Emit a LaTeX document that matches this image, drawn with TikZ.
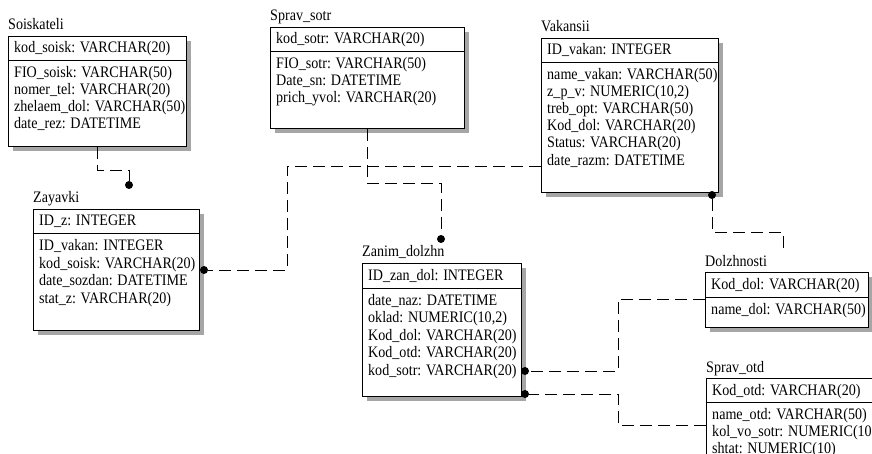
\documentclass[tikz,border=0pt]{standalone}
\usepackage{fontspec}
\setmainfont{Liberation Serif}[FakeStretch=0.88]
\usepackage{tikz}
\usetikzlibrary{
    shadows,
    calc,
    positioning
}

\tikzset{
    tbl/.style={draw, line width=1.1pt, fill=white, rectangle, anchor=north west,
        inner sep=0pt,
        drop shadow={shadow xshift=4pt, shadow yshift=-4pt, fill=gray!70, opacity=1}},
    ttl/.style={anchor=base west, inner sep=0pt, font=\fontsize{16}{17}\selectfont},
    fld/.style={anchor=base west, inner sep=0pt, font=\fontsize{16}{17}\selectfont},
    sep/.style={line width=0.8pt},
    rel/.style={line width=0.8pt, dash pattern=on 12pt off 6pt},
    dot/.style={circle, fill=black, inner sep=0pt, minimum size=8pt}
}

\begin{document}
\begin{tikzpicture}[x=1pt, y=-1pt]
    \clip (0,0) rectangle (872,454);
    \fill[white] (0,0) rectangle (872,454);

    % Soiskateli
    \node[tbl, minimum width=178, minimum height=110] (soisk) at (8,36) {};
    \node[ttl] at ([yshift=6pt]soisk.north west) {Soiskateli};
    \draw[sep] ([yshift=-24pt]soisk.north west) -- ([yshift=-24pt]soisk.north east);
    \node[fld] at ([shift={(6pt,-17pt)}]soisk.north west) {kod\_soisk: VARCHAR(20)};
    \foreach \f [count=\i] in {FIO\_soisk: VARCHAR(50), nomer\_tel: VARCHAR(20),
        zhelaem\_dol: VARCHAR(50), date\_rez: DATETIME}
        \node[fld] at ([shift={(6pt,{-24pt-17.2pt*\i})}]soisk.north west) {\f};

    % Sprav_sotr
    \node[tbl, minimum width=194, minimum height=101] (sotr) at (270,27) {};
    \node[ttl] at ([yshift=6pt]sotr.north west) {Sprav\_sotr};
    \draw[sep] ([yshift=-24pt]sotr.north west) -- ([yshift=-24pt]sotr.north east);
    \node[fld] at ([shift={(6pt,-17pt)}]sotr.north west) {kod\_sotr: VARCHAR(20)};
    \foreach \f [count=\i] in {FIO\_sotr: VARCHAR(50), Date\_sn: DATETIME,
        prich\_yvol: VARCHAR(20)}
        \node[fld] at ([shift={(6pt,{-24pt-17.2pt*\i})}]sotr.north west) {\f};

    % Vakansii
    \node[tbl, minimum width=177, minimum height=154] (vakan) at (541,38) {};
    \node[ttl] at ([yshift=6pt]vakan.north west) {Vakansii};
    \draw[sep] ([yshift=-24pt]vakan.north west) -- ([yshift=-24pt]vakan.north east);
    \node[fld] at ([shift={(6pt,-17pt)}]vakan.north west) {ID\_vakan: INTEGER};
    \foreach \f [count=\i] in {name\_vakan: VARCHAR(50), {z\_p\_v: NUMERIC(10,2)},
        treb\_opt: VARCHAR(50), Kod\_dol: VARCHAR(20), Status: VARCHAR(20),
        date\_razm: DATETIME}
        \node[fld] at ([shift={(6pt,{-24pt-17.2pt*\i})}]vakan.north west) {\f};

    % Zayavki
    \node[tbl, minimum width=166, minimum height=121] (zayav) at (33,209) {};
    \node[ttl] at ([yshift=6pt]zayav.north west) {Zayavki};
    \draw[sep] ([yshift=-24pt]zayav.north west) -- ([yshift=-24pt]zayav.north east);
    \node[fld] at ([shift={(6pt,-17pt)}]zayav.north west) {ID\_z: INTEGER};
    \foreach \f [count=\i] in {ID\_vakan: INTEGER, kod\_soisk: VARCHAR(20),
        date\_sozdan: DATETIME, stat\_z: VARCHAR(20)}
        \node[fld] at ([shift={(6pt,{-24pt-17.6pt*\i})}]zayav.north west) {\f};

    % Zanim_dolzhn
    \node[tbl, minimum width=159, minimum height=133] (zandol) at (362,263) {};
    \node[ttl] at ([yshift=6pt]zandol.north west) {Zanim\_dolzhn};
    \draw[sep] ([yshift=-25pt]zandol.north west) -- ([yshift=-25pt]zandol.north east);
    \node[fld] at ([shift={(6pt,-17pt)}]zandol.north west) {ID\_zan\_dol: INTEGER};
    \foreach \f [count=\i] in {date\_naz: DATETIME, {oklad: NUMERIC(10,2)},
        Kod\_dol: VARCHAR(20), Kod\_otd: VARCHAR(20), kod\_sotr: VARCHAR(20)}
        \node[fld] at ([shift={(6pt,{-25pt-17.4pt*\i})}]zandol.north west) {\f};

    % Dolzhnosti
    \node[tbl, minimum width=163, minimum height=55] (dolzh) at (705,272) {};
    \node[ttl] at ([yshift=6pt]dolzh.north west) {Dolzhnosti};
    \draw[sep] ([yshift=-25pt]dolzh.north west) -- ([yshift=-25pt]dolzh.north east);
    \node[fld] at ([shift={(6pt,-17pt)}]dolzh.north west) {Kod\_dol: VARCHAR(20)};
    \node[fld] at ([shift={(6pt,-42pt)}]dolzh.north west) {name\_dol: VARCHAR(50)};

    % Sprav_otd
    \node[tbl, minimum width=200, minimum height=110] (otd) at (706,378) {};
    \node[ttl] at ([yshift=6pt]otd.north west) {Sprav\_otd};
    \draw[sep] ([yshift=-24pt]otd.north west) -- ([yshift=-24pt]otd.north east);
    \node[fld] at ([shift={(6pt,-17pt)}]otd.north west) {Kod\_otd: VARCHAR(20)};
    \foreach \f [count=\i] in {name\_otd: VARCHAR(50), kol\_vo\_sotr: NUMERIC(10),
        shtat: NUMERIC(10)}
        \node[fld] at ([shift={(6pt,{-24pt-17.2pt*\i})}]otd.north west) {\f};

    % foreign key ends
    \node[dot] (d-zay1) at (129,185) {};
    \node[dot] (d-zay2) at (204,270) {};
    \node[dot] (d-zan1) at (441,239) {};
    \node[dot] (d-vak) at (712,195) {};
    \node[dot] (d-zan2) at (525,371) {};
    \node[dot] (d-zan3) at (525,394) {};

    % relations
    \draw[rel] ([xshift=89pt]soisk.south west) |- (129,170) -- (d-zay1);
    \draw[rel] ([yshift=-128pt]vakan.north west) -| (287,270) -- (d-zay2);
    \draw[rel] ([xshift=97pt]sotr.south west) |- (441,183) -- (d-zan1);
    \draw[rel] (d-vak) |- (783,232) -- ([shift={(78pt,19pt)}]dolzh.north west);
    \draw[rel] ([yshift=-27pt]dolzh.north west) -| (618,371) -- (d-zan2);
    \draw[rel] ([yshift=-47pt]otd.north west) -| (618,394) -- (d-zan3);
\end{tikzpicture}
\end{document}
